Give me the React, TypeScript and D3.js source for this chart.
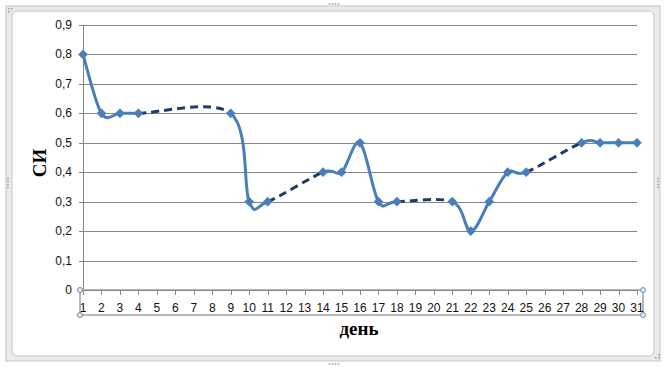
import React from "react";
import * as d3 from "d3";

const days = [1, 2, 3, 4, 9, 10, 11, 14, 15, 16, 17, 18, 21, 22, 23, 24, 25, 28, 29, 30, 31];
const values = [0.8, 0.6, 0.6, 0.6, 0.6, 0.3, 0.3, 0.4, 0.4, 0.5, 0.3, 0.3, 0.3, 0.2, 0.3, 0.4, 0.4, 0.5, 0.5, 0.5, 0.5];
const yTicks = [0, 0.1, 0.2, 0.3, 0.4, 0.5, 0.6, 0.7, 0.8, 0.9];
const xTicks = d3.range(1, 32);
const yTitle = "СИ";
const xTitle = "день";

const W = 667;
const H = 369;

const x = d3.scaleLinear().domain([1, 31]).range([83, 637]);
const y = d3.scaleLinear().domain([0, 0.9]).range([290, 25]);

const BLUE = "#4a7ebb";
const NAVY = "#1f3a68";
const GRID = "#868686";
const LABEL_FONT = "'Liberation Sans', Arial, sans-serif";

function fmt(v: number) {
  return d3.format(".1f")(v).replace(".", ",").replace(/^0,0$/, "0");
}

type P = [number, number];

function segments() {
  const pts: P[] = days.map((d, i) => [x(d), y(values[i])]);
  const k = 1 / 6;
  const out: { d: string; dashed: boolean }[] = [];
  for (let i = 0; i < pts.length - 1; i++) {
    const p0 = pts[i - 1] ?? pts[i];
    const p1 = pts[i];
    const p2 = pts[i + 1];
    const p3 = pts[i + 2] ?? pts[i + 1];
    const c1: P = [p1[0] + k * (p2[0] - p0[0]), p1[1] + k * (p2[1] - p0[1])];
    const c2: P = [p2[0] - k * (p3[0] - p1[0]), p2[1] - k * (p3[1] - p1[1])];
    const path = d3.path();
    path.moveTo(p1[0], p1[1]);
    path.bezierCurveTo(c1[0], c1[1], c2[0], c2[1], p2[0], p2[1]);
    out.push({ d: path.toString(), dashed: days[i + 1] - days[i] > 1 });
  }
  return out;
}

function dots(cx: number, cy: number, n: number, vertical: boolean) {
  const items = [];
  for (let i = 0; i < n; i++) {
    const dx = vertical ? 0 : (i - (n - 1) / 2) * 3;
    const dy = vertical ? (i - (n - 1) / 2) * 3 : 0;
    items.push(<rect key={i} x={cx + dx - 0.75} y={cy + dy - 0.75} width={1.5} height={1.5} fill="#9a9a9a" />);
  }
  return items;
}

export default function App() {
  const segs = segments();
  const diamond = d3.symbol().type((d3 as any).symbolDiamond2 ?? d3.symbolDiamond).size(60)();
  return (
    <svg width={W} height={H} style={{ position: "absolute", left: 0, top: 0, background: "#fff" }}>
      {/* chart frame */}
      <rect x={6} y={6} width={654} height={355} fill="#ebebeb" stroke="#c4c4c4" strokeWidth={1} />
      <rect x={12} y={11} width={642} height={345} rx={5} fill="#ffffff" stroke="#c4c4c4" strokeWidth={1} />
      <g>{dots(334, 4, 4, false)}</g>
      <g>{dots(334, 364, 4, false)}</g>
      <g>{dots(8, 183, 4, true)}</g>
      <g>{dots(658, 183, 4, true)}</g>
      <g>
        <rect x={8} y={8} width={1.5} height={1.5} fill="#9a9a9a" />
        <rect x={11} y={8} width={1.5} height={1.5} fill="#9a9a9a" />
        <rect x={8} y={11} width={1.5} height={1.5} fill="#9a9a9a" />
        <rect x={655} y={357} width={1.5} height={1.5} fill="#9a9a9a" />
        <rect x={658} y={357} width={1.5} height={1.5} fill="#9a9a9a" />
        <rect x={658} y={354} width={1.5} height={1.5} fill="#9a9a9a" />
      </g>

      {/* gridlines */}
      {yTicks.map((t) => (
        <line key={t} x1={x(1)} x2={x(31)} y1={Math.round(y(t)) + 0.5} y2={Math.round(y(t)) + 0.5} stroke={GRID} strokeWidth={1} />
      ))}
      {/* y axis */}
      <line x1={x(1) + 0.5} x2={x(1) + 0.5} y1={y(0.9)} y2={y(0)} stroke={GRID} strokeWidth={1} />
      {yTicks.map((t) => (
        <line key={"yt" + t} x1={x(1) - 4} x2={x(1)} y1={Math.round(y(t)) + 0.5} y2={Math.round(y(t)) + 0.5} stroke={GRID} strokeWidth={1} />
      ))}
      {yTicks.map((t) => (
        <text key={"yl" + t} x={72} y={y(t) + 4} textAnchor="end" fontFamily={LABEL_FONT} fontSize={12} fill="#111">
          {fmt(t)}
        </text>
      ))}

      {/* x axis selection box */}
      <rect x={80} y={290} width={563} height={25} fill="none" stroke="#b8b8b8" strokeWidth={2} />
      <line x1={x(1)} x2={x(31)} y1={290.5} y2={290.5} stroke={GRID} strokeWidth={1} />
      {xTicks.map((t) => (
        <line key={"xt" + t} x1={Math.round(x(t)) + 0.5} x2={Math.round(x(t)) + 0.5} y1={290} y2={295} stroke={GRID} strokeWidth={1} />
      ))}
      {xTicks.map((t) => (
        <text key={"xl" + t} x={x(t)} y={312} textAnchor="middle" fontFamily={LABEL_FONT} fontSize={12} fill="#111">
          {t}
        </text>
      ))}
      {[
        [80, 290],
        [80, 315],
        [643, 290],
        [643, 315],
      ].map(([hx, hy], i) => (
        <circle key={"h" + i} cx={hx} cy={hy} r={2.5} fill="#dbe8f5" stroke="#6d8fb3" strokeWidth={1} />
      ))}

      {/* series */}
      {segs.map((s, i) => (
        <path
          key={"s" + i}
          d={s.d}
          fill="none"
          stroke={s.dashed ? NAVY : BLUE}
          strokeWidth={3}
          strokeDasharray={s.dashed ? "8,5" : undefined}
          strokeLinecap={s.dashed ? "butt" : "round"}
        />
      ))}
      {days.map((d, i) => (
        <path key={"m" + d} d={diamond ?? ""} transform={`translate(${x(d)},${y(values[i])})`} fill={BLUE} />
      ))}

      {/* titles */}
      <text
        transform={`translate(46,163) rotate(-90)`}
        textAnchor="middle"
        fontFamily="'Liberation Serif', 'Times New Roman', serif"
        fontWeight="bold"
        fontSize={19}
        fill="#000"
      >
        {yTitle}
      </text>
      <text x={359} y={335} textAnchor="middle" fontFamily="'Liberation Serif', 'Times New Roman', serif" fontWeight="bold" fontSize={19} fill="#000">
        {xTitle}
      </text>
    </svg>
  );
}
